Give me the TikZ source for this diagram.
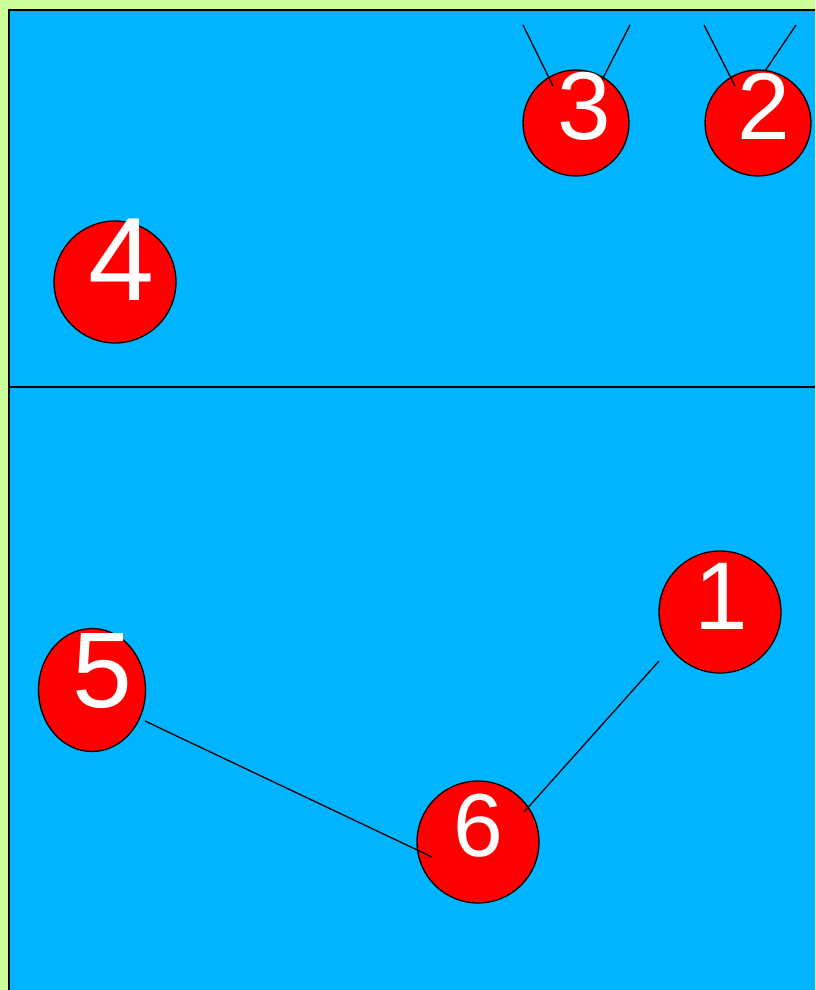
\documentclass[tikz,border=0pt]{standalone}
\usepackage{fontspec}
\setmainfont{Liberation Sans}
\usetikzlibrary{calc,shapes.geometric}
\definecolor{courtblue}{HTML}{00B4FF}
\definecolor{rimgreen}{HTML}{CCFF99}

\begin{document}
\begin{tikzpicture}[x=0.02cm, y=-0.02cm, line width=0.75pt,
    player/.style={circle, draw=black, fill=red, inner sep=0pt},
    num/.style={text=white, inner sep=0pt, font=\fontsize{#1pt}{#1pt}\selectfont}]

  \clip (0,0) rectangle (815,990);

  % -- the court: green rim, blue floor, border on the left and top, and the net
  \fill[rimgreen] (0,0) rectangle (815,990);
  \fill[courtblue] (9,10) rectangle (830,1000);
  \draw[line width=0.9pt] (9,1000) -- (9,10) -- (830,10);
  \draw[line width=0.9pt] (9,387) -- (830,387);

  % -- the six players; 5 is a little taller than wide
  \foreach \nm/\px/\py/\sz in {p3/576/123/2.12cm, p2/758/123/2.12cm,
      p4/115/282/2.44cm, p1/720/612/2.44cm, p6/478/842/2.44cm}{
    \node[player, minimum size=\sz] (\nm) at (\px,\py) {};}
  \node[player, ellipse, minimum width=2.14cm, minimum height=2.46cm]
    (p5) at (92,690) {};

  % -- arms raised at the net
  \draw ($(p3)+(-53,-98)$) -- ($(p3)+(-23,-37)$);
  \draw ($(p3)+(54,-98)$) -- ($(p3)+(23,-37)$);
  \draw ($(p2)+(-54,-98)$) -- ($(p2)+(-23,-37)$);
  \draw ($(p2)+(38,-98)$) -- ($(p2)+(7,-52)$);

  % -- the back row lines
  \draw ($(p5)+(53,31)$) -- ($(p6)+(-46,15)$);
  \draw ($(p6)+(46,-30)$) -- ($(p1)+(-61,49)$);

  % -- numbers, set a bit above the middle of each player
  \foreach \nm/\dx/\dy/\fs/\txt in {p3/8/-17/54.8/3, p2/6/-17/54/2,
      p4/6/-22/67.5/4, p1/1/-16/54.8/1, p5/10/-19/61.2/5, p6/0/-16/50.9/6}{
    \node[num=\fs] at ($(\nm)+(\dx,\dy)$) {\txt};}

\end{tikzpicture}
\end{document}
